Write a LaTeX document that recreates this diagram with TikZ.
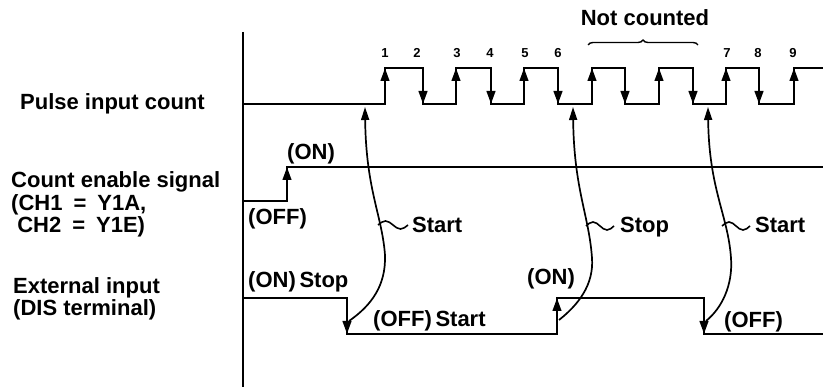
\documentclass[tikz,border=0pt]{standalone}
\usepackage{fontspec}
\setmainfont{Liberation Sans}
\usepackage{tikz}
\usetikzlibrary{arrows.meta,decorations.pathreplacing}

\begin{document}
\begin{tikzpicture}[
  x=1pt, y=-1pt,
  lab/.style={font=\fontsize{22}{22.5}\selectfont\bfseries, inner sep=0pt,
              anchor=base west, align=left},
  num/.style={font=\fontsize{13}{13}\selectfont\bfseries, inner sep=0pt, anchor=base},
  sig/.style={line width=2.6pt},
  edgearr/.style={line width=2.6pt, -{Triangle[length=13pt,width=8.5pt]}},
  link/.style={line width=1.7pt, -{Triangle[length=13pt,width=8pt]}},
  wave/.style={line width=1.6pt}
]
\useasboundingbox (0,0) rectangle (823,387);
% time axis
\coordinate (axtop) at (243,32);
\coordinate (axbot) at (243,387);
\draw[line width=1.8pt] (axtop) -- (axbot);
% row labels (base = last line)
\node[lab] (pulse) at (20,110) {Pulse input count};
\node[lab] (enable) at (11,233) {Count enable signal\\(CH1\enspace=\enspace Y1A,\\\ CH2\enspace=\enspace Y1E)};
\node[lab] (ext) at (13,316) {External input\\(DIS terminal)};
% pulse train
\draw[sig] (243,104) -- (385,104) -- (385,68) -- (423,68) -- (423,104) -- (456,104)
  -- (456,68) -- (491,68) -- (491,104) -- (524,104) -- (524,68) -- (558,68) -- (558,104)
  -- (592,104) -- (592,68) -- (625,68) -- (625,104) -- (659,104) -- (659,68) -- (693,68)
  -- (693,104) -- (726,104) -- (726,68) -- (759,68) -- (759,104) -- (794,104) -- (794,68)
  -- (823,68);
\foreach \x in {385,456,524,592,659,726,794} \draw[edgearr] (\x,104) -- (\x,68);
\foreach \x in {423,491,558,625,693,759} \draw[edgearr] (\x,68) -- (\x,104);
\foreach \x/\n in {385/1,417/2,457/3,490/4,525/5,558/6,727/7,758/8,793/9}
  \node[num] (n\n) at (\x,58) {\n};
\node[lab, anchor=base] (notc) at (645,26) {Not counted};
\draw[line width=1.4pt, decorate, decoration={brace, amplitude=5pt}] (588,45) -- (698,45);
% count enable signal
\draw[sig] (243,201) -- (287,201) -- (287,167) -- (823,167);
\draw[edgearr] (287,201) -- (287,167);
\node[lab] (enon) at (287,160) {(ON)};
\node[lab] (enoff) at (248,225) {(OFF)};
% external input
\draw[sig] (243,298) -- (347,298) -- (347,334) -- (557,334) -- (557,298) -- (704,298)
  -- (704,334) -- (823,334);
\draw[edgearr] (347,298) -- (347,334);
\draw[edgearr] (557,334) -- (557,298);
\draw[edgearr] (704,298) -- (704,334);
\node[lab] (exon1) at (248,288) {(ON)\,Stop};
\node[lab] (exoff1) at (373,327) {(OFF)\,Start};
\node[lab] (exon2) at (527,285) {(ON)};
\node[lab] (exoff2) at (724,328) {(OFF)};
% links from external input to the pulse count
\coordinate (e1) at (349,321);
\coordinate (p1) at (365,107);
\coordinate (e2) at (559,320);
\coordinate (p2) at (573,107);
\coordinate (e3) at (706,321);
\coordinate (p3) at (708,107);
\draw[link] (e1) .. controls (372,305) and (386,285) .. (385,255)
  .. controls (382,215) and (366,190) .. (p1);
\draw[link] (e2) .. controls (578,305) and (594,285) .. (592,258)
  .. controls (589,215) and (574,190) .. (p2);
\draw[link] (e3) .. controls (722,308) and (733,285) .. (731,258)
  .. controls (728,215) and (709,190) .. (p3);
% start / stop remarks
\node[lab] (start1) at (412,233) {Start};
\node[lab] (stop) at (620,233) {Stop};
\node[lab] (start2) at (755,233) {Start};
\coordinate (t1) at (378,225);
\coordinate (t2) at (586,226);
\coordinate (t3) at (722,226);
\draw[wave] (t1) sin ++(7.5,-4) cos ++(7.5,4) sin ++(7.5,4) cos ++(7.5,-4);
\draw[wave] (t2) sin ++(7,-4) cos ++(7,4) sin ++(7,4) cos ++(7,-4);
\draw[wave] (t3) sin ++(7,-4) cos ++(7,4) sin ++(7,4) cos ++(7,-4);
\end{tikzpicture}
\end{document}
